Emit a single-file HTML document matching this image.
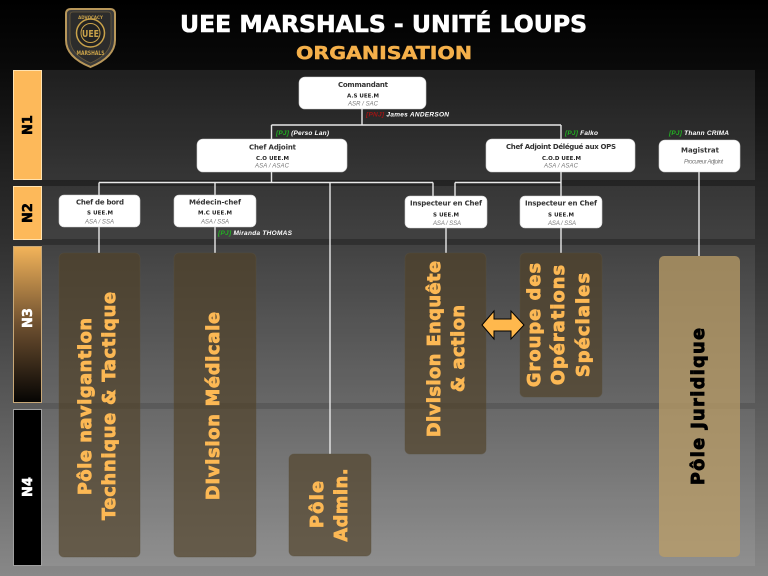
<!DOCTYPE html>
<html><head><meta charset="utf-8"><style>
html,body{margin:0;padding:0;width:768px;height:576px;overflow:hidden;background:#000}
svg{display:block}
</style></head><body>
<svg width="768" height="576" viewBox="0 0 768 576" xmlns="http://www.w3.org/2000/svg">
<defs>
<linearGradient id="bg" x1="0" y1="0" x2="0" y2="576" gradientUnits="userSpaceOnUse">
<stop offset="0" stop-color="#000"/>
<stop offset="0.10" stop-color="#080808"/>
<stop offset="0.32" stop-color="#242424"/>
<stop offset="0.42" stop-color="#303030"/>
<stop offset="0.705" stop-color="#5a5a5a"/>
<stop offset="1" stop-color="#888"/>
</linearGradient>
<linearGradient id="n3" x1="0" y1="0" x2="0" y2="1">
<stop offset="0" stop-color="#f3b45a"/>
<stop offset="0.5" stop-color="#6e5030"/>
<stop offset="1" stop-color="#050403"/>
</linearGradient>
</defs>
<rect x="0" y="0" width="768" height="576" fill="url(#bg)"/>

<!-- bands -->
<g fill="rgba(255,255,255,0.085)">
<rect x="42" y="70" width="713" height="110"/>
<rect x="42" y="186" width="713" height="53"/>
<rect x="42" y="245" width="713" height="158"/>
<rect x="42" y="409" width="713" height="157"/>
</g>

<!-- level labels -->
<rect x="13.5" y="70.5" width="28" height="109" fill="#fdb95a" stroke="#ffe2b0" stroke-width="1"/>
<rect x="13.5" y="186.5" width="28" height="53" fill="#fdb95a" stroke="#ffe2b0" stroke-width="1"/>
<rect x="13.5" y="246.5" width="28" height="156" fill="url(#n3)" stroke="#c8a878" stroke-width="1"/>
<rect x="13.5" y="409.5" width="28" height="156" fill="#000" stroke="#a0a0a0" stroke-width="1"/>
<g font-family="'DejaVu Sans','Liberation Sans',sans-serif" font-weight="bold" font-size="13" text-anchor="middle" stroke-width="0.5">
<text transform="translate(32,125) rotate(-90)" fill="#000" stroke="#000">N1</text>
<text transform="translate(32,213) rotate(-90)" fill="#000" stroke="#000">N2</text>
<text transform="translate(32,318) rotate(-90)" fill="#fff" stroke="#fff">N3</text>
<text transform="translate(32,487) rotate(-90)" fill="#fff" stroke="#fff">N4</text>
</g>

<!-- header -->
<g>
<path d="M66,14 Q66,9 71,9 L110,9 Q115,9 115,14 L115,40 Q115,57 90.5,67 Q66,57 66,40 Z" fill="#3a3a3a" stroke="#b8975a" stroke-width="2"/>
<path d="M70,15 Q70,12 73,12 L108,12 Q111,12 111,15 L111,39 Q111,54 90.5,63 Q70,54 70,39 Z" fill="#2c2c2c" stroke="#6a5a3a" stroke-width="0.8"/>
<circle cx="90.5" cy="33" r="14" fill="#222" stroke="#c9a24a" stroke-width="1.5"/>
<circle cx="90.5" cy="33" r="9.5" fill="none" stroke="#c9a24a" stroke-width="1"/>
<text x="90.5" y="37" text-anchor="middle" font-family="'DejaVu Sans',sans-serif" font-weight="bold" font-size="10" fill="#c9a24a" textLength="17" lengthAdjust="spacingAndGlyphs">UEE</text>
<text x="90.5" y="19" text-anchor="middle" font-family="'DejaVu Sans',sans-serif" font-weight="bold" font-size="4" fill="#c9a24a">ADVOCACY</text>
<text x="90.5" y="55" text-anchor="middle" font-family="'DejaVu Sans',sans-serif" font-weight="bold" font-size="6" fill="#c9a24a" textLength="28" lengthAdjust="spacingAndGlyphs">MARSHALS</text>
</g>
<text x="180" y="32" font-family="'DejaVu Sans','Liberation Sans',sans-serif" font-weight="bold" font-size="23" fill="#fff" stroke="#fff" stroke-width="0.6" textLength="407" lengthAdjust="spacingAndGlyphs">UEE MARSHALS - UNITÉ LOUPS</text>
<text x="296" y="59" font-family="'DejaVu Sans','Liberation Sans',sans-serif" font-weight="bold" font-size="18" fill="#f5b04a" stroke="#f5b04a" stroke-width="0.5" textLength="176" lengthAdjust="spacingAndGlyphs">ORGANISATION</text>

<!-- connectors -->
<g stroke="#e8e8e8" stroke-width="1.4" fill="none">
<line x1="362" y1="109" x2="362" y2="125"/>
<line x1="271.5" y1="125" x2="561" y2="125"/>
<line x1="271.5" y1="125" x2="271.5" y2="182.5"/>
<line x1="561" y1="125" x2="561" y2="253"/>
<line x1="99" y1="182.5" x2="433" y2="182.5"/>
<line x1="455" y1="182.5" x2="561" y2="182.5"/>
<line x1="99" y1="182.5" x2="99" y2="253"/>
<line x1="215" y1="182.5" x2="215" y2="253"/>
<line x1="330" y1="182.5" x2="330" y2="454"/>
<line x1="433" y1="182.5" x2="433" y2="196"/>
<line x1="455" y1="182.5" x2="455" y2="196"/>
<line x1="446" y1="228" x2="446" y2="253"/>
<line x1="699" y1="172" x2="699" y2="256"/>
</g>

<!-- nodes -->
<g stroke="#d0d0d0" stroke-width="0.6" fill="#fff">
<rect x="299" y="77" width="127" height="32" rx="6"/>
<rect x="197" y="139" width="150" height="33" rx="6"/>
<rect x="486" y="139" width="149" height="33" rx="6"/>
<rect x="659" y="140" width="81" height="32" rx="6"/>
<rect x="59" y="195" width="81" height="32" rx="5"/>
<rect x="174" y="195" width="82" height="32" rx="5"/>
<rect x="405" y="196" width="82" height="32" rx="5"/>
<rect x="520" y="196" width="82" height="32" rx="5"/>
</g>

<g font-family="'DejaVu Sans','Liberation Sans',sans-serif" font-weight="bold" fill="#333" lengthAdjust="spacingAndGlyphs">
<text x="338" y="87" font-size="7" textLength="50">Commandant</text>
<text x="347" y="97.7" font-size="5.5" fill="#222" textLength="32">A.S UEE.M</text>
<text x="249" y="149.3" font-size="7" textLength="47">Chef Adjoint</text>
<text x="256" y="160" font-size="5.5" fill="#222" textLength="33">C.O UEE.M</text>
<text x="506" y="149" font-size="7" textLength="110">Chef Adjoint Délégué aux OPS</text>
<text x="542" y="160" font-size="5.5" fill="#222" textLength="39">C.O.D UEE.M</text>
<text x="681" y="152.7" font-size="7" textLength="38">Magistrat</text>
<text x="76" y="204.7" font-size="7" textLength="48">Chef de bord</text>
<text x="87" y="214.3" font-size="5.5" fill="#222" textLength="26">S UEE.M</text>
<text x="189" y="204.7" font-size="7" textLength="52">Médecin-chef</text>
<text x="198" y="214.3" font-size="5.5" fill="#222" textLength="34">M.C UEE.M</text>
<text x="410" y="205.7" font-size="7" textLength="72">Inspecteur en Chef</text>
<text x="433" y="216.7" font-size="5.5" fill="#222" textLength="26">S UEE.M</text>
<text x="525" y="205.7" font-size="7" textLength="72">Inspecteur en Chef</text>
<text x="548" y="216.7" font-size="5.5" fill="#222" textLength="26">S UEE.M</text>
</g>
<g font-family="'Liberation Sans',sans-serif" font-style="italic" fill="#777" font-size="6" lengthAdjust="spacingAndGlyphs">
<text x="348" y="105.3" textLength="30">ASR / SAC</text>
<text x="255" y="167.3" textLength="34">ASA / ASAC</text>
<text x="544" y="167.3" textLength="34">ASA / ASAC</text>
<text x="684" y="163.3" textLength="39">Procureur Adjoint</text>
<text x="85" y="223.7" textLength="29">ASA / SSA</text>
<text x="201" y="223.7" textLength="28">ASA / SSA</text>
<text x="433" y="225" textLength="28">ASA / SSA</text>
<text x="548" y="225" textLength="28">ASA / SSA</text>
</g>

<!-- character labels -->
<g font-family="'Liberation Sans',sans-serif" font-style="italic" font-weight="bold" font-size="6.5" lengthAdjust="spacingAndGlyphs">
<text x="366" y="116.3" textLength="83"><tspan fill="#a01414">[PNJ]</tspan><tspan fill="#fff"> James ANDERSON</tspan></text>
<text x="276" y="135" textLength="53"><tspan fill="#22b322">[PJ]</tspan><tspan fill="#fff"> (Perso Lan)</tspan></text>
<text x="565" y="135" textLength="33"><tspan fill="#22b322">[PJ]</tspan><tspan fill="#fff"> Falko</tspan></text>
<text x="669" y="135" textLength="60"><tspan fill="#22b322">[PJ]</tspan><tspan fill="#fff"> Thann CRIMA</tspan></text>
<text x="218" y="235" textLength="74"><tspan fill="#22b322">[PJ]</tspan><tspan fill="#fff"> Miranda THOMAS</tspan></text>
</g>

<!-- N3/N4 boxes -->
<g fill="rgba(80,65,40,0.66)" stroke="rgba(90,80,60,0.5)" stroke-width="0.8">
<rect x="59" y="253" width="81" height="304" rx="5"/>
<rect x="174" y="253" width="82" height="304" rx="5"/>
<rect x="289" y="454" width="82" height="102" rx="5"/>
<rect x="405" y="253" width="81" height="201" rx="5"/>
<rect x="520" y="253" width="82" height="144" rx="5"/>
</g>
<rect x="659" y="256" width="81" height="301" rx="5" fill="rgba(188,158,102,0.74)"/>

<g font-family="'DejaVu Sans','Liberation Sans',sans-serif" font-weight="bold" font-size="17.5" fill="#fcb854" stroke="#fcb854" stroke-width="0.9" text-anchor="middle" lengthAdjust="spacingAndGlyphs">
<text transform="translate(91,406.5) rotate(-90)" textLength="177">Pôle navigantion</text>
<text transform="translate(115,406) rotate(-90)" textLength="228">Technique &amp; Tactique</text>
<text transform="translate(219,406) rotate(-90)" textLength="188">DIvision Médicale</text>
<text transform="translate(323,504.5) rotate(-90)" textLength="47">Pôle</text>
<text transform="translate(347,505) rotate(-90)" textLength="73">Admin.</text>
<text transform="translate(440,349) rotate(-90)" textLength="176">Division Enquête</text>
<text transform="translate(464,348.5) rotate(-90)" textLength="87">&amp; action</text>
<text transform="translate(540,325) rotate(-90)" textLength="124">Groupe des</text>
<text transform="translate(564,325) rotate(-90)" textLength="120">Opérations</text>
<text transform="translate(589,325) rotate(-90)" textLength="104">Spéciales</text>
<text transform="translate(704,406.5) rotate(-90)" textLength="157" fill="#000" stroke="#000">Pôle Juridique</text>
</g>

<!-- double arrow -->
<path d="M482,325 L494,311 L494,319 L511,319 L511,311 L524,325 L511,339 L511,331 L494,331 L494,339 Z" fill="#ffb84d" stroke="#000" stroke-width="1"/>
</svg>
</body></html>
